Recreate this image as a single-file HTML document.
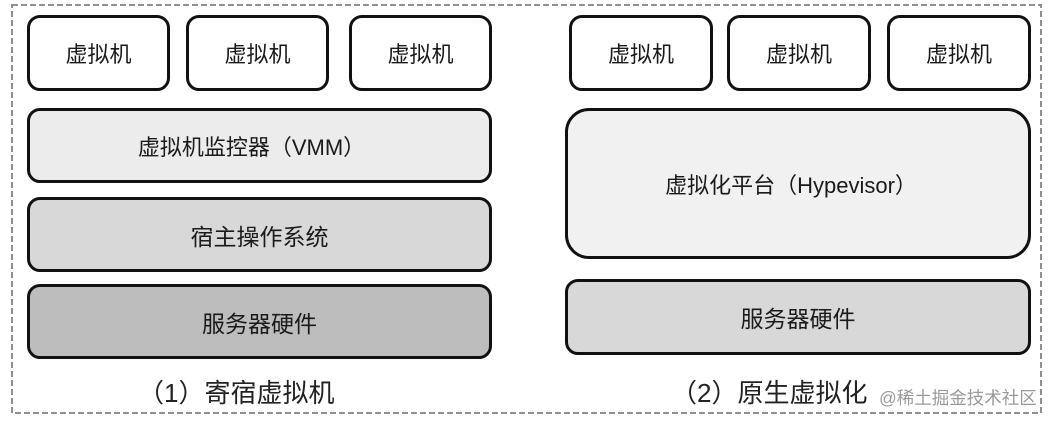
<!DOCTYPE html>
<html><head><meta charset="utf-8"><style>
html,body{margin:0;padding:0;background:#fff;}
body{width:1055px;height:423px;position:relative;overflow:hidden;font-family:"Liberation Sans","Noto Sans CJK SC",sans-serif;color:#1a1a1a;}
.b{position:absolute;box-sizing:border-box;border:3px solid #111;border-radius:13px;display:flex;align-items:center;justify-content:center;font-size:22px;}
.cap{position:absolute;font-size:26px;line-height:30px;white-space:nowrap;font-family:"Liberation Sans","Noto Sans CJK SC",sans-serif;color:#222;}
.wm{position:absolute;font-size:17.5px;line-height:20px;color:#9a9a9a;white-space:nowrap;}
</style></head><body>
<svg width="1055" height="423" style="position:absolute;left:0;top:0">
<rect x="12" y="5" width="1029" height="408" fill="none" stroke="#8f8f8f" stroke-width="2" stroke-dasharray="6 3"/>
</svg>

<div class="b" style="left:27px;top:15px;width:143px;height:76px;background:#fff">虚拟机</div>
<div class="b" style="left:186px;top:15px;width:143px;height:76px;background:#fff">虚拟机</div>
<div class="b" style="left:349px;top:15px;width:143px;height:76px;background:#fff">虚拟机</div>
<div class="b" style="left:27px;top:108px;width:465px;height:75px;background:#ececec;padding-right:16px">虚拟机监控器（VMM）</div>
<div class="b" style="left:27px;top:197px;width:465px;height:75px;background:#d8d8d8;font-size:23px">宿主操作系统</div>
<div class="b" style="left:27px;top:284px;width:465px;height:75px;background:#bdbdbd;font-size:23px">服务器硬件</div>
<div class="cap" style="left:138px;top:378px">（1）寄宿虚拟机</div>

<div class="b" style="left:569px;top:15px;width:144px;height:76px;background:#fff">虚拟机</div>
<div class="b" style="left:727px;top:15px;width:144px;height:76px;background:#fff">虚拟机</div>
<div class="b" style="left:887px;top:15px;width:144px;height:76px;background:#fff">虚拟机</div>
<div class="b" style="left:565px;top:108px;width:466px;height:151px;background:#f1f1f1;border-radius:24px;padding-right:14px">虚拟化平台（Hypevisor）</div>
<div class="b" style="left:565px;top:279px;width:466px;height:76px;background:#d8d8d8;font-size:23px">服务器硬件</div>
<div class="cap" style="left:671px;top:378px">（2）原生虚拟化</div>
<div class="wm" style="left:879px;top:388px">@稀土掘金技术社区</div>
</body></html>
